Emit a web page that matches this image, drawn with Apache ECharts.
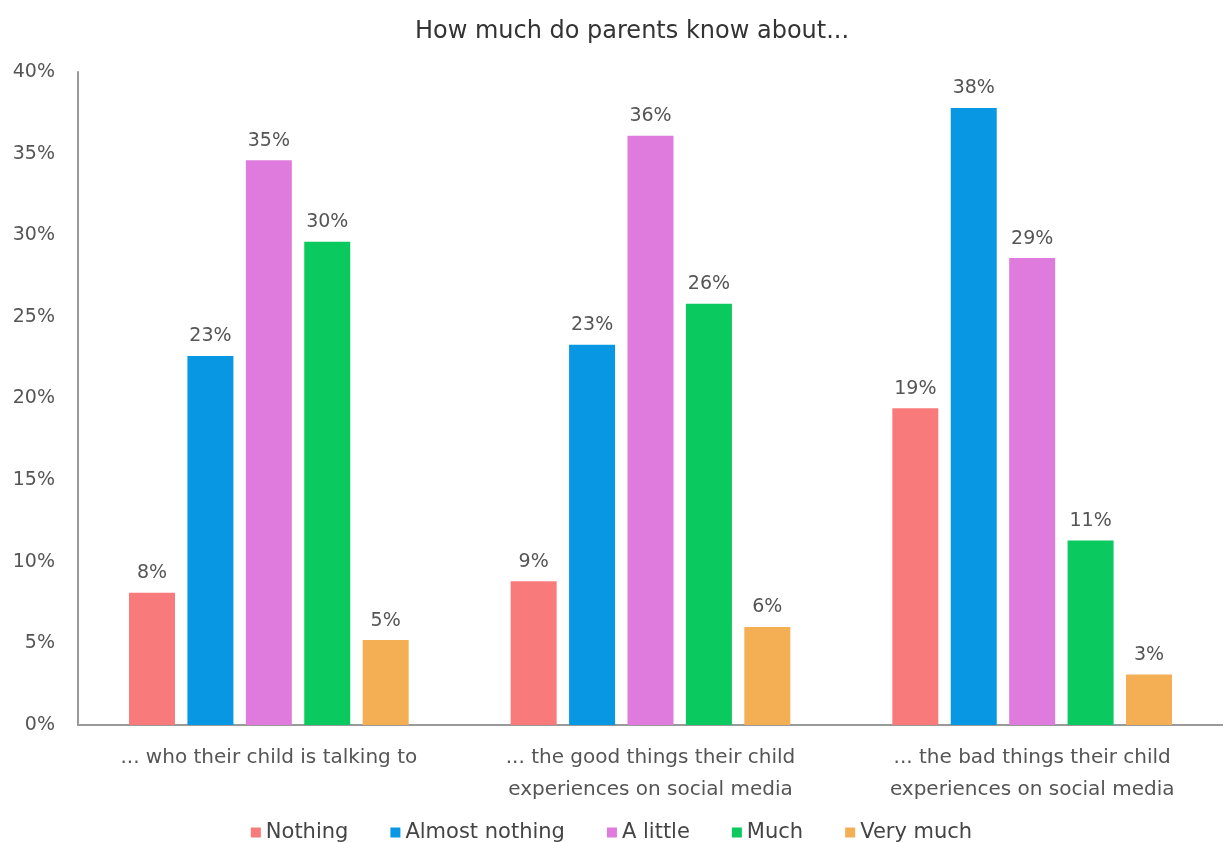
<!DOCTYPE html>
<html>
<head>
<meta charset="utf-8">
<title>How much do parents know about...</title>
<script src="https://cdn.jsdelivr.net/npm/echarts@6/dist/echarts.min.js"></script>
<style>
  html, body { margin: 0; padding: 0; background: #fff; }
  #chart { width: 1223px; height: 843px; }
</style>
</head>
<body>
<div id="chart"></div>
<script>
// Survey topics (x categories)
const categories = [
  '... who their child is talking to',
  '... the good things their child\nexperiences on social media',
  '... the bad things their child\nexperiences on social media'
];

// Answer levels, in legend order
const levels = ['Nothing', 'Almost nothing', 'A little', 'Much', 'Very much'];

// Share of respondents (%) per answer level, one value per topic
const nothing       = [8.1, 8.8, 19.4];
const almostNothing = [22.6, 23.3, 37.8];
const aLittle       = [34.6, 36.1, 28.6];
const much          = [29.6, 25.8, 11.3];
const veryMuch      = [5.2, 6.0, 3.1];

// Y axis ticks
const yTicks = [0, 5, 10, 15, 20, 25, 30, 35, 40];

const seriesValues = [nothing, almostNothing, aLittle, much, veryMuch];
const palette = ['#F87A7B', '#0797E3', '#E07BDE', '#0ACA5F', '#F4AE54'];

const FONT = 'DejaVu Sans';
const TEXT = '#555';

const chart = echarts.init(document.getElementById('chart'), null, { renderer: 'canvas' });

chart.setOption({
  animation: false,
  backgroundColor: '#fff',
  textStyle: { fontFamily: FONT },
  title: {
    text: 'How much do parents know about...',
    left: 627,
    textAlign: 'center',
    top: 15,
    textStyle: { fontFamily: FONT, fontSize: 24, fontWeight: 'normal', color: '#333' }
  },
  legend: {
    data: levels,
    top: 817,
    left: 'center',
    icon: 'rect',
    itemWidth: 10,
    itemHeight: 10,
    itemGap: 42,
    textStyle: { fontFamily: FONT, fontSize: 21, color: '#444' }
  },
  grid: { left: 78, right: 0, top: 72, bottom: 118 },
  xAxis: {
    type: 'category',
    data: categories,
    axisLine: { lineStyle: { color: '#999', width: 2 } },
    axisTick: { show: false },
    axisLabel: {
      fontFamily: FONT, fontSize: 20, color: TEXT, lineHeight: 32, margin: 17, interval: 0
    }
  },
  yAxis: {
    type: 'value',
    min: yTicks[0],
    max: yTicks[yTicks.length - 1],
    interval: yTicks[1] - yTicks[0],
    axisLine: { show: true, lineStyle: { color: '#999', width: 2 } },
    axisTick: { show: false },
    splitLine: { show: false },
    axisLabel: {
      fontFamily: FONT, fontSize: 19, color: TEXT, margin: 23,
      formatter: v => v + '%'
    }
  },
  series: levels.map((name, i) => ({
    name,
    type: 'bar',
    data: seriesValues[i],
    barWidth: 46,
    barGap: '27%',
    itemStyle: { color: palette[i] },
    label: {
      show: true,
      position: 'top',
      distance: 10,
      fontFamily: FONT,
      fontSize: 19,
      color: TEXT,
      formatter: p => Math.round(p.value) + '%'
    }
  }))
});
</script>
</body>
</html>
